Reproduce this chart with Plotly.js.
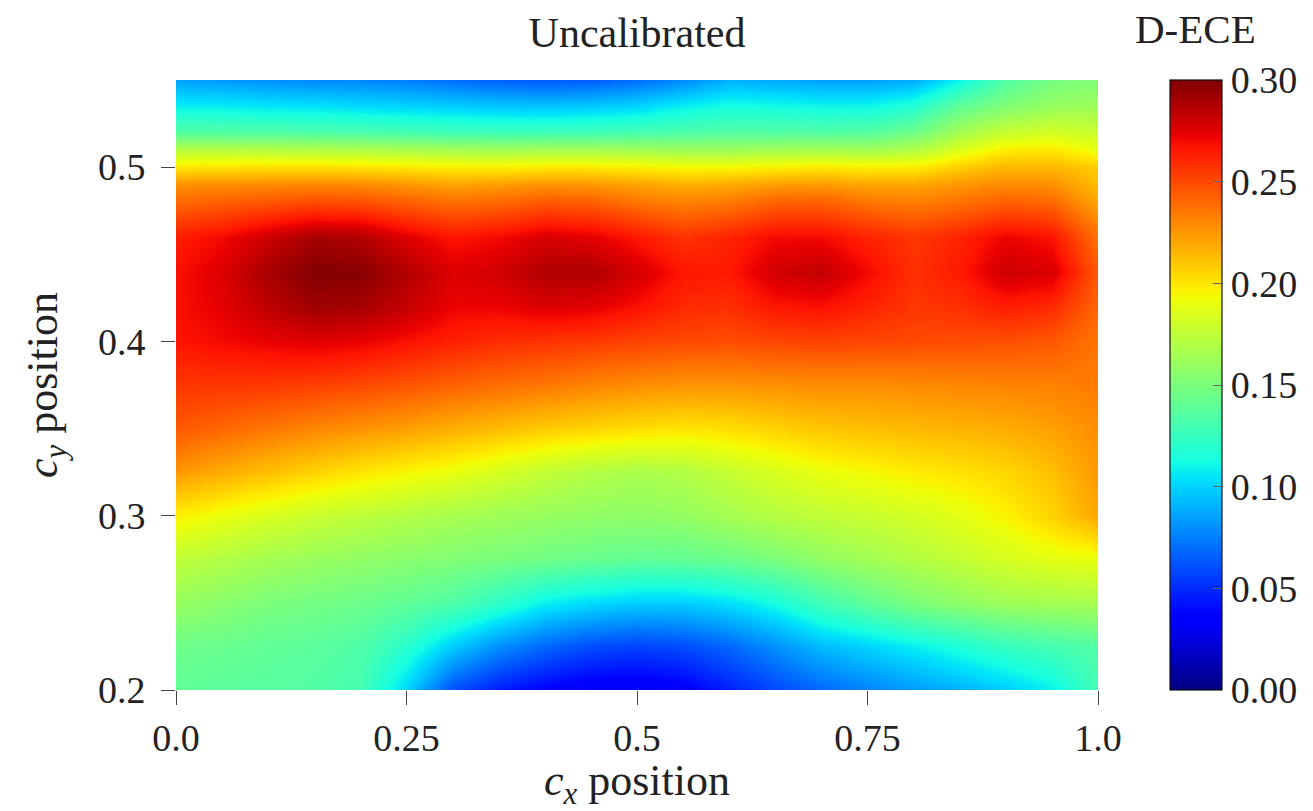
<!DOCTYPE html>
<html>
<head>
<meta charset="utf-8">
<script src="https://cdn.plot.ly/plotly-3.0.1.min.js"></script>
<style>html,body{margin:0;padding:0;background:#fff;}#chart{width:1313px;height:811px;}</style>
</head>
<body>
<div id="chart"></div>
<script>
// c_x grid positions
const cx = [0, 0.05, 0.1, 0.15, 0.2, 0.25, 0.3, 0.35, 0.4, 0.45, 0.5, 0.55, 0.6, 0.65, 0.7, 0.75, 0.8, 0.85, 0.9, 0.95, 1.0];
// c_y grid positions
const cy = [0.2, 0.225, 0.25, 0.275, 0.3, 0.325, 0.35, 0.375, 0.4, 0.42, 0.44, 0.46, 0.48, 0.49, 0.5, 0.51, 0.52, 0.535, 0.55];

// D-ECE values, one row per c_y
const row_0200 = [0.140,0.138,0.137,0.135,0.130,0.100,0.060,0.045,0.036,0.031,0.030,0.034,0.046,0.058,0.068,0.076,0.083,0.090,0.098,0.108,0.130];
const row_0225 = [0.145,0.143,0.140,0.138,0.134,0.120,0.098,0.080,0.068,0.060,0.057,0.060,0.068,0.080,0.093,0.100,0.108,0.116,0.125,0.130,0.135];
const row_0250 = [0.160,0.155,0.150,0.147,0.144,0.140,0.134,0.122,0.108,0.102,0.098,0.098,0.103,0.113,0.128,0.140,0.150,0.157,0.163,0.165,0.166];
const row_0275 = [0.175,0.170,0.165,0.161,0.158,0.155,0.152,0.149,0.146,0.143,0.140,0.141,0.144,0.150,0.158,0.164,0.170,0.176,0.183,0.188,0.190];
const row_0300 = [0.197,0.190,0.184,0.178,0.174,0.170,0.166,0.163,0.160,0.158,0.157,0.159,0.165,0.171,0.175,0.178,0.182,0.188,0.196,0.206,0.220];
const row_0325 = [0.225,0.218,0.212,0.206,0.200,0.195,0.190,0.183,0.176,0.170,0.167,0.170,0.177,0.184,0.190,0.194,0.198,0.201,0.205,0.212,0.225];
const row_0350 = [0.245,0.240,0.235,0.230,0.226,0.222,0.217,0.213,0.208,0.205,0.202,0.200,0.202,0.206,0.210,0.212,0.214,0.216,0.218,0.222,0.228];
const row_0375 = [0.256,0.256,0.255,0.253,0.250,0.246,0.242,0.238,0.235,0.231,0.228,0.226,0.226,0.227,0.228,0.228,0.229,0.230,0.231,0.232,0.234];
const row_0400 = [0.267,0.270,0.273,0.275,0.273,0.268,0.263,0.259,0.257,0.255,0.252,0.250,0.249,0.251,0.252,0.251,0.250,0.249,0.248,0.245,0.236];
const row_0420 = [0.268,0.274,0.284,0.292,0.290,0.282,0.272,0.272,0.276,0.274,0.268,0.260,0.258,0.266,0.268,0.262,0.256,0.258,0.264,0.260,0.240];
const row_0440 = [0.268,0.276,0.290,0.299,0.298,0.287,0.276,0.279,0.288,0.288,0.278,0.266,0.265,0.279,0.283,0.270,0.258,0.265,0.280,0.277,0.245];
const row_0460 = [0.264,0.270,0.280,0.290,0.287,0.275,0.266,0.270,0.277,0.274,0.266,0.257,0.262,0.270,0.270,0.262,0.256,0.262,0.272,0.267,0.237];
const row_0480 = [0.240,0.243,0.246,0.249,0.248,0.243,0.238,0.240,0.245,0.243,0.236,0.232,0.235,0.242,0.243,0.236,0.233,0.237,0.243,0.240,0.220];
const row_0490 = [0.228,0.229,0.230,0.231,0.230,0.226,0.222,0.224,0.227,0.226,0.222,0.218,0.220,0.224,0.225,0.221,0.221,0.226,0.230,0.228,0.213];
const row_0500 = [0.200,0.201,0.202,0.202,0.201,0.199,0.197,0.197,0.199,0.199,0.197,0.194,0.194,0.197,0.199,0.197,0.198,0.208,0.215,0.215,0.208];
const row_0510 = [0.172,0.172,0.172,0.171,0.170,0.168,0.166,0.165,0.166,0.166,0.165,0.163,0.163,0.165,0.166,0.165,0.170,0.186,0.198,0.200,0.190];
const row_0520 = [0.135,0.135,0.134,0.133,0.132,0.130,0.128,0.127,0.127,0.128,0.130,0.133,0.135,0.135,0.135,0.136,0.145,0.165,0.178,0.182,0.178];
const row_0535 = [0.108,0.107,0.105,0.104,0.102,0.100,0.098,0.096,0.095,0.097,0.100,0.108,0.113,0.112,0.110,0.110,0.118,0.140,0.152,0.160,0.163];
const row_0550 = [0.085,0.083,0.080,0.078,0.077,0.075,0.070,0.066,0.064,0.065,0.070,0.078,0.090,0.088,0.085,0.085,0.088,0.110,0.135,0.148,0.152];

const zRows = [row_0200,row_0225,row_0250,row_0275,row_0300,row_0325,row_0350,row_0375,row_0400,row_0420,row_0440,row_0460,row_0480,row_0490,row_0500,row_0510,row_0520,row_0535,row_0550];

// tick labels
const xTickVals = [0, 0.25, 0.5, 0.75, 1.0];
const xTickText = ['0.0', '0.25', '0.5', '0.75', '1.0'];
const yTickVals = [0.2, 0.3, 0.4, 0.5];
const yTickText = ['0.2', '0.3', '0.4', '0.5'];
const cbTickVals = [0, 0.05, 0.1, 0.15, 0.2, 0.25, 0.3];
const cbTickText = ['0.00', '0.05', '0.10', '0.15', '0.20', '0.25', '0.30'];
const zMin = 0, zMax = 0.3;

// matplotlib-like jet colormap
const jet = [
  [0.00, 'rgb(0,0,128)'],
  [0.11, 'rgb(0,0,255)'],
  [0.125, 'rgb(0,0,255)'],
  [0.34, 'rgb(0,219,255)'],
  [0.35, 'rgb(0,229,247)'],
  [0.375, 'rgb(21,255,226)'],
  [0.64, 'rgb(238,255,8)'],
  [0.65, 'rgb(247,246,0)'],
  [0.66, 'rgb(255,236,0)'],
  [0.89, 'rgb(255,19,0)'],
  [0.91, 'rgb(232,0,0)'],
  [1.00, 'rgb(128,0,0)']
];

const FONT = '"Liberation Serif", "DejaVu Serif", serif';
const TXT = '#222';

const plotW = 1313 - 176 - 215;
// colorbar placement (paper x of its left edge) and width
const cbX = 1.078, cbThick = 52;

const trace = {
  type: 'heatmap',
  x: cx, y: cy, z: zRows,
  zsmooth: 'best',
  zmin: zMin, zmax: zMax,
  colorscale: jet,
  showscale: true,
  colorbar: {
    x: cbX, xanchor: 'left', xref: 'paper',
    y: 0.5, yanchor: 'middle',
    len: 1, lenmode: 'fraction',
    thickness: cbThick, thicknessmode: 'pixels',
    xpad: 0, ypad: 0,
    outlinecolor: '#111', outlinewidth: 1.2,
    tickmode: 'array', tickvals: cbTickVals, ticktext: cbTickText,
    ticks: 'inside', ticklen: 9, tickcolor: '#666', tickwidth: 1,
    tickfont: {family: FONT, size: 38, color: TXT}
  }
};

const layout = {
  width: 1313, height: 811,
  margin: {l: 176, r: 215, t: 80, b: 121, autoexpand: false},
  paper_bgcolor: '#fff', plot_bgcolor: '#fff',
  title: {text: 'Uncalibrated', x: 0.4852, xanchor: 'center', y: 0.96, yanchor: 'middle',
          font: {family: FONT, size: 42, color: TXT}},
  annotations: [{
    text: 'D-ECE', xref: 'paper', yref: 'paper', x: cbX + (cbThick / 2) / plotW, y: 1.083,
    xanchor: 'center', yanchor: 'middle', showarrow: false,
    font: {family: FONT, size: 41, color: TXT}
  }],
  xaxis: {
    range: [0, 1], autorange: false,
    showgrid: false, zeroline: false, showline: false,
    tickmode: 'array', tickvals: xTickVals, ticktext: xTickText,
    ticks: 'outside', ticklen: 14, tickcolor: '#444', tickwidth: 1,
    tickfont: {family: FONT, size: 38, color: TXT},
    title: {text: '<i>c</i><sub><i>x</i></sub> position', standoff: 22, font: {family: FONT, size: 44, color: TXT}}
  },
  yaxis: {
    range: [0.2, 0.55], autorange: false,
    showgrid: false, zeroline: false, showline: false,
    tickmode: 'array', tickvals: yTickVals, ticktext: yTickText,
    ticks: 'outside', ticklen: 14, tickcolor: '#444', tickwidth: 1,
    ticklabelstandoff: 8,
    tickfont: {family: FONT, size: 38, color: TXT},
    title: {text: '<i>c</i><sub><i>y</i></sub> position', standoff: 26, font: {family: FONT, size: 44, color: TXT}}
  },
  font: {family: FONT, color: TXT}
};

Plotly.newPlot('chart', [trace], layout, {displayModeBar: false, staticPlot: true});
</script>
</body>
</html>
